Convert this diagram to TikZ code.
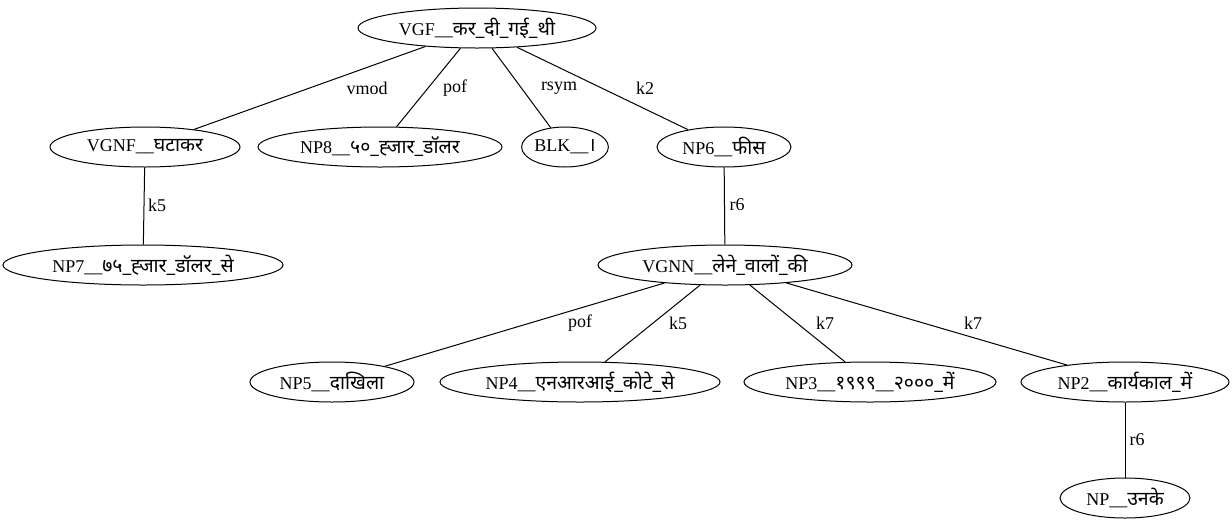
\documentclass[tikz,border=0pt]{standalone}
\usepackage{fontspec}
\setmainfont{Liberation Serif}
\newfontfamily\devfont[Script=Devanagari,Scale=1.08]{Noto Sans}
\newcommand{\dv}[1]{{\devfont #1}}
\usetikzlibrary{shapes.geometric}
\begin{document}
\begin{tikzpicture}[x=1pt,y=-1pt,
  tnode/.style={draw, ellipse, line width=1pt, inner sep=0pt, minimum height=40pt, font=\fontsize{18}{20}\selectfont},
  elab/.style={font=\fontsize{18}{20}\selectfont},
  edge/.style={line width=1pt}]
\useasboundingbox (0,0) rectangle (1232,528);
% tree nodes
\node[tnode, minimum width=238pt] (vgf) at (477,28) {VGF\_\_\dv{कर\_दी\_गई\_थी}};
\node[tnode, minimum width=190pt] (vgnf) at (145,147) {VGNF\_\_\dv{घटाकर}};
\node[tnode, minimum width=244pt] (np8) at (380,147) {NP8\_\_\dv{५०\_ह्जार\_डॉलर}};
\node[tnode, minimum width=86pt] (blk) at (565,147) {BLK\_\_\dv{।}};
\node[tnode, minimum width=134pt] (np6) at (724,147) {NP6\_\_\dv{फीस}};
\node[tnode, minimum width=280pt] (np7) at (143,265) {NP7\_\_\dv{७५\_ह्जार\_डॉलर\_से}};
\node[tnode, minimum width=254pt] (vgnn) at (725,265) {VGNN\_\_\dv{लेने\_वालों\_की}};
\node[tnode, minimum width=164pt] (np5) at (332,382) {NP5\_\_\dv{दाखिला}};
\node[tnode, minimum width=280pt] (np4) at (580,382) {NP4\_\_\dv{एनआरआई\_कोटे\_से}};
\node[tnode, minimum width=252pt] (np3) at (870,382) {NP3\_\_\dv{१९९९}\_\_\dv{२०००\_में}};
\node[tnode, minimum width=208pt] (np2) at (1125,382) {NP2\_\_\dv{कार्यकाल\_में}};
\node[tnode, minimum width=130pt] (np) at (1125,498) {NP\_\_\dv{उनके}};
% dependency edges
\draw[edge] (vgf) -- (vgnf);
\draw[edge] (vgf) -- (np8);
\draw[edge] (vgf) -- (blk);
\draw[edge] (vgf) -- (np6);
\draw[edge] (vgnf) -- (np7);
\draw[edge] (np6) -- (vgnn);
\draw[edge] (vgnn) -- (np5);
\draw[edge] (vgnn) -- (np4);
\draw[edge] (vgnn) -- (np3);
\draw[edge] (vgnn) -- (np2);
\draw[edge] (np2) -- (np);
% relation labels
\node[elab] (l1) at (367,88) {vmod};
\node[elab] (l2) at (455,88) {pof};
\node[elab] (l3) at (559,88) {rsym};
\node[elab] (l4) at (645,88) {k2};
\node[elab] (l5) at (157,205) {k5};
\node[elab] (l6) at (737,205) {r6};
\node[elab] (l7) at (580,323) {pof};
\node[elab] (l8) at (678,323) {k5};
\node[elab] (l9) at (825,323) {k7};
\node[elab] (l10) at (973,323) {k7};
\node[elab] (l11) at (1137,440) {r6};
\end{tikzpicture}
\end{document}
